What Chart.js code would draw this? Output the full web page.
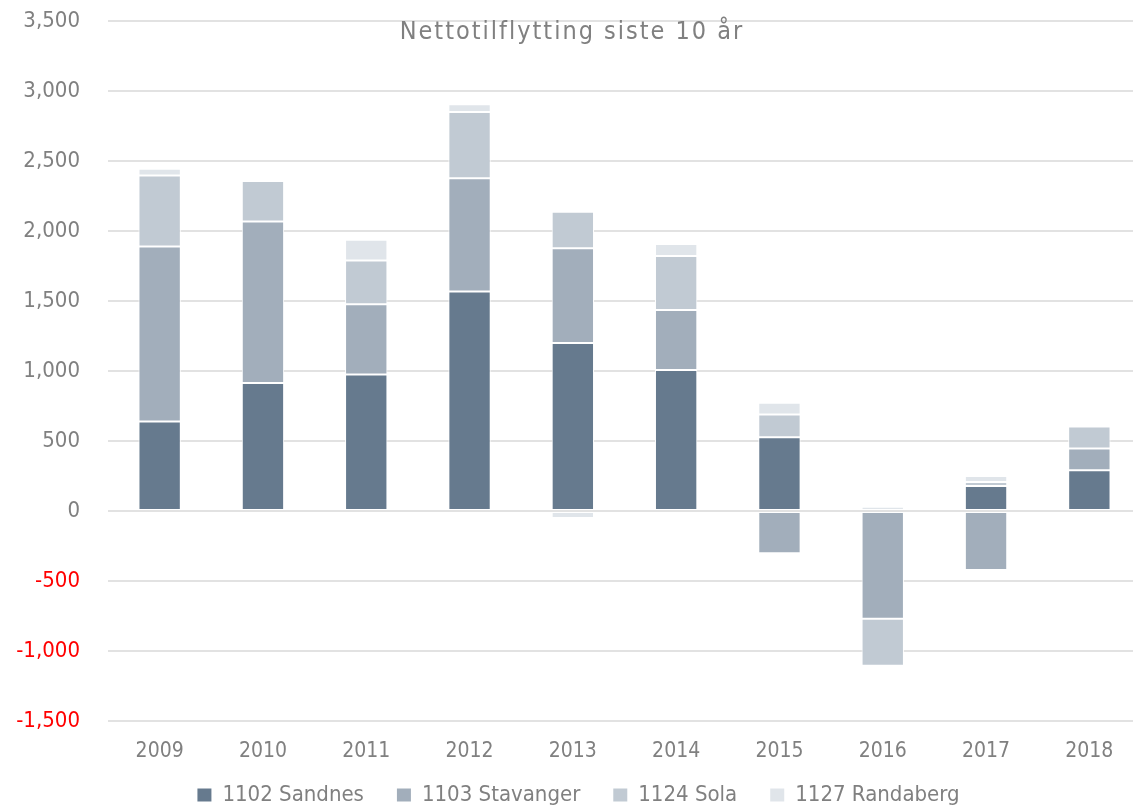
<!DOCTYPE html>
<html>
<head>
<meta charset="utf-8">
<script src="https://cdn.jsdelivr.net/npm/chart.js@4.4.1/dist/chart.umd.min.js"></script>
<style>
  html, body { margin: 0; padding: 0; background: #ffffff; overflow: hidden; width: 1133px; height: 807px; }
  #wrap { position: absolute; left: 0; top: 0; width: 1142px; height: 816px; }
</style>
</head>
<body>
<div id="wrap"><canvas id="c" width="1142" height="816"></canvas></div>
<script>
const years = ['2009','2010','2011','2012','2013','2014','2015','2016','2017','2018'];
const sandnes   = [640, 914, 975, 1567, 1200, 1007, 526, 0, 178, 291];
const stavanger = [1250, 1153, 501, 809, 676, 429, -302, -769, -421, 155];
const sola      = [506, 290, 314, 474, 262, 385, 164, -336, 30, 157];
const randaberg = [48, 0, 148, 55, -50, 86, 84, 30, 42, 0];
const seriesNames = ['1102 Sandnes', '1103 Stavanger', '1124 Sola', '1127 Randaberg'];
const titleText = 'Nettotilflytting siste 10 år';
const yMin = -1500, yMax = 3500, yStep = 500;

const FONT = '"DejaVu Sans Condensed", "DejaVu Sans", sans-serif';
const colors = ['#667a8e', '#a2aebb', '#c1cad3', '#e0e5ea'];

const titlePlugin = {
  id: 'overTitle',
  afterDraw(chart) {
    const ctx = chart.ctx;
    ctx.save();
    ctx.font = '25px ' + FONT;
    if ('letterSpacing' in ctx) ctx.letterSpacing = '2px';
    ctx.fillStyle = '#808080';
    ctx.textAlign = 'center';
    ctx.textBaseline = 'alphabetic';
    ctx.fillText(titleText, 572, 39);
    ctx.restore();
  }
};

const mk = (label, data, color) => ({
  label, data, backgroundColor: color, borderColor: '#ffffff', borderWidth: 1, borderSkipped: false
});

new Chart(document.getElementById('c'), {
  type: 'bar',
  data: {
    labels: years,
    datasets: [
      mk(seriesNames[0], sandnes, colors[0]),
      mk(seriesNames[1], stavanger, colors[1]),
      mk(seriesNames[2], sola, colors[2]),
      mk(seriesNames[3], randaberg, colors[3])
    ]
  },
  options: {
    responsive: false,
    animation: false,
    devicePixelRatio: 1,
    layout: { padding: { top: 21, right: 1, left: 16, bottom: 0 } },
    datasets: { bar: { barPercentage: 0.41, categoryPercentage: 1 } },
    plugins: {
      tooltip: { enabled: false },
      title: { display: false },
      legend: {
        position: 'bottom',
        labels: {
          font: { family: FONT, size: 22 },
          color: '#808080',
          boxWidth: 14,
          boxHeight: 13,
          padding: 33,
          generateLabels: (ch) => Chart.defaults.plugins.legend.labels.generateLabels(ch)
            .map(l => Object.assign(l, { lineWidth: 0 }))
        }
      }
    },
    scales: {
      x: {
        stacked: true,
        grid: { display: false, drawTicks: false },
        border: { display: false },
        ticks: { font: { family: FONT, size: 21 }, color: '#808080', padding: 18 },
        afterFit(s) { s.height = 30; s._computeLabelArea = () => undefined; }
      },
      y: {
        stacked: true,
        min: yMin, max: yMax,
        grid: { color: '#e2e2e2', lineWidth: 2, drawTicks: false },
        border: { display: false },
        ticks: {
          stepSize: yStep,
          padding: 28,
          font: { family: FONT, size: 22 },
          color: (c) => (c.tick && c.tick.value < 0) ? '#ff0000' : '#808080',
          callback: (v) => Number(v).toLocaleString('en-US')
        },
        afterFit(s) { s.width = 92; s.paddingTop = 0; s.paddingBottom = 0; s._computeLabelArea = () => undefined; }
      }
    }
  },
  plugins: [titlePlugin]
});
</script>
</body>
</html>
